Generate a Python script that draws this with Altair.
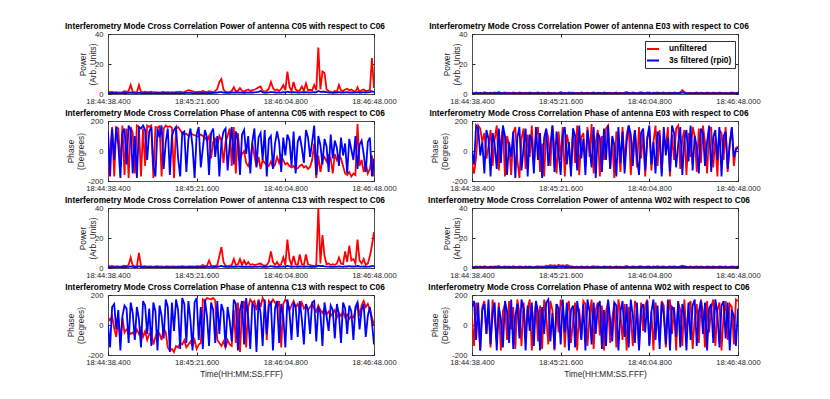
import altair as alt
import pandas as pd

# ---------------- data ----------------
TICK_LABELS = ["18:44:38.400", "18:45:21.600", "18:46:04.800", "18:46:48.000"]
TICK_SECONDS = [0, 43.2, 86.4, 129.6]
SPAN = 129.6
POWER_TICKS = [0, 20, 40]
PHASE_TICKS = [-200, 0, 200]
SERIES_NAMES = ["unfiltered", "3s filtered (rpi0)"]
COLORS = ["#ff0000", "#0000ff"]
REF = "C06"

c05_power_unf = [1.5,1.2,1.4,1.0,1.3,1.1,0.9,1.2,1.8,1.5,
                 2.0,6.0,1.5,1.2,1.0,6.0,1.4,1.1,1.6,1.3,
                 1.2,1.5,1.0,1.3,1.1,0.9,1.2,1.4,1.0,1.2,
                 1.1,1.3,1.0,1.4,1.2,1.5,1.1,1.3,2.0,2.5,
                 2.2,1.8,1.4,1.2,1.6,1.3,2.0,1.5,1.2,1.8,
                 1.5,1.2,2.0,3.5,8.0,10.0,3.0,1.5,1.2,1.4,
                 2.0,4.5,1.8,2.0,4.0,2.2,1.6,2.5,3.0,2.0,
                 2.6,3.0,3.5,4.5,5.0,2.0,1.4,2.2,3.5,8.0,
                 4.0,2.5,3.0,2.0,3.5,6.0,2.5,15.0,5.0,2.0,
                 8.0,3.0,2.0,2.5,5.0,2.2,7.0,2.5,2.8,2.4,
                 6.0,2.5,31.0,3.0,15.0,14.0,3.0,2.0,1.5,1.0,
                 2.0,1.5,6.0,2.5,2.0,3.0,3.5,2.5,3.0,2.0,
                 1.5,4.5,1.2,2.5,3.0,2.0,2.2,2.5,24.0,4.0]
c05_power_filt = [0.6,0.5,0.7,0.5,0.6,0.4,0.5,0.6,0.7,0.6,
                  0.8,1.0,0.7,0.6,0.5,0.9,0.6,0.5,0.6,0.5,
                  0.5,0.6,0.4,0.5,0.6,0.5,0.4,0.5,0.6,0.5,
                  0.5,0.4,0.6,0.5,0.5,0.6,0.5,0.6,0.7,0.8,
                  0.7,0.6,0.5,0.6,0.5,0.6,0.7,0.6,0.5,0.7,
                  0.6,0.7,0.8,1.0,1.2,1.3,1.0,0.8,0.7,0.8,
                  0.9,1.1,0.9,1.0,1.1,0.9,0.8,1.0,1.0,0.9,
                  1.0,1.1,1.2,1.4,2.0,1.0,0.8,0.9,1.1,1.3,
                  1.2,1.0,1.1,0.9,1.0,1.2,1.0,1.5,1.3,1.0,
                  1.3,1.1,1.0,1.0,1.2,1.0,1.3,1.1,1.0,1.1,
                  1.2,1.1,2.0,1.4,1.6,1.5,1.2,1.0,0.9,0.8,
                  1.0,0.9,1.2,1.0,1.0,1.1,1.2,1.0,1.1,1.0,
                  0.9,1.2,0.9,1.0,1.2,1.0,1.1,1.3,1.8,1.2]

c05_phase_unf = [-180,0,160,-170,160,150,-100,170,-160,150,
                 -180,160,120,-150,170,160,-170,150,-100,170,
                 160,170,-180,160,155,165,-170,150,170,160,
                 165,155,-180,150,160,140,120,110,115,100,
                 120,110,105,100,95,110,100,90,70,100,
                 -50,60,80,30,100,70,-80,60,100,150,
                 -100,160,-150,120,-50,-20,0,-80,-100,-60,
                 50,-30,-100,-40,-120,-60,-80,-90,-100,-70,
                 -110,-90,-40,-80,-30,-60,-90,-80,-100,-110,
                 -100,-120,-115,-100,-90,-110,-100,-120,-105,-60,
                 50,-180,-30,-140,-60,-40,-70,-30,-50,-150,
                 -20,-60,-30,-50,-100,-150,-160,-140,-170,-150,
                 -160,180,-100,-60,-140,-80,-150,-120,-30,-170]
c05_phase_filt = [130,-170,150,-60,160,40,-180,120,150,-90,
                  170,140,-150,100,-180,160,150,170,140,-60,
                  130,160,-100,-170,150,90,170,-120,60,150,
                  -160,100,140,160,-50,-170,120,130,-140,80,
                  150,30,-180,110,160,-110,20,140,90,-160,
                  120,150,-40,100,-170,60,130,150,-130,40,
                  160,-90,130,70,-160,110,140,-20,100,-150,
                  60,150,-110,90,120,-60,140,-170,80,100,
                  -120,50,130,60,-140,90,-30,110,70,-100,
                  130,-150,60,100,20,-80,140,90,-40,60,
                  170,-160,100,40,-90,80,30,-140,110,-50,
                  70,20,-100,90,-30,50,-150,80,10,-60,
                  100,-120,40,70,-20,-140,60,90,-170,-50]

c13_power_unf = [1.2,1.0,1.3,0.9,1.1,1.0,0.8,1.2,1.5,1.3,
                 2.0,7.0,1.5,1.2,1.0,10.0,1.3,1.0,1.2,0.9,
                 1.1,1.0,0.8,1.0,1.2,0.9,1.0,0.8,1.1,1.0,
                 0.9,1.0,1.1,0.8,1.0,0.9,1.2,1.0,0.9,1.0,
                 1.1,1.0,0.9,1.2,1.0,1.3,2.0,1.2,1.5,5.0,
                 1.5,1.2,1.4,2.0,8.0,14.0,4.0,1.5,1.2,1.4,
                 2.0,6.0,2.0,2.5,6.0,2.0,5.0,2.2,4.0,2.0,
                 2.5,2.0,2.2,2.8,3.0,2.0,1.5,2.0,4.0,11.0,
                 4.0,2.0,4.0,1.5,2.5,7.0,2.0,19.0,6.0,2.0,
                 8.0,2.5,2.0,9.0,2.5,2.0,9.0,2.5,2.0,1.5,
                 1.2,2.0,40.0,3.0,22.0,8.0,2.5,3.0,2.0,2.5,
                 2.0,3.0,7.0,3.0,2.5,11.0,4.0,15.0,5.0,6.0,
                 3.0,19.0,5.0,3.0,6.0,2.0,3.0,8.0,15.0,24.0]
c13_power_filt = [0.6,0.5,0.6,0.4,0.5,0.6,0.5,0.6,0.7,0.6,
                  0.8,1.1,0.7,0.6,0.5,1.2,0.6,0.5,0.6,0.5,
                  0.5,0.6,0.4,0.5,0.6,0.5,0.4,0.5,0.6,0.5,
                  0.5,0.4,0.6,0.5,0.5,0.6,0.5,0.6,0.5,0.6,
                  0.7,0.6,0.5,0.6,0.5,0.6,0.7,0.6,0.7,0.9,
                  0.7,0.6,0.7,0.8,1.1,1.4,1.0,0.8,0.7,0.8,
                  0.8,1.0,0.8,0.9,1.0,0.8,0.9,0.8,0.9,0.8,
                  0.8,0.9,0.8,0.9,1.0,0.8,0.7,0.8,0.9,1.2,
                  1.0,0.8,0.9,0.8,0.9,1.0,0.9,1.4,1.1,0.8,
                  1.0,0.9,0.8,1.0,0.9,0.8,1.0,0.9,0.8,0.8,
                  0.8,0.9,1.6,1.2,1.4,1.1,0.9,0.9,0.8,0.9,
                  0.8,0.9,1.0,0.9,0.8,1.1,1.0,1.2,1.0,1.0,
                  0.9,1.3,1.0,0.9,1.0,0.8,0.9,1.0,1.2,1.4]

c13_phase_unf = [50,30,60,-20,-80,40,-100,50,-50,-30,
                 -40,-60,-50,-70,-30,-60,-20,-80,-40,-100,
                 -60,-50,-130,-80,-40,-60,-100,-20,-50,-150,
                 -170,-160,-180,-140,-150,-120,-130,-100,-150,-130,
                 -110,-140,-100,-160,-130,-120,170,160,180,175,
                 170,180,165,-100,-120,-140,-110,-150,-100,-130,
                 -140,100,-120,150,-180,100,160,-150,120,170,
                 150,160,100,170,120,180,150,-100,160,140,
                 170,150,120,160,-150,140,170,150,100,130,
                 160,120,140,100,150,110,130,100,120,140,
                 110,90,130,100,80,110,70,90,60,80,
                 100,50,80,60,90,50,70,40,60,50,
                 100,150,60,130,160,120,140,100,50,0]
c13_phase_filt = [0,-150,120,140,-30,100,-170,60,130,110,
                  -120,150,80,-100,120,40,-150,160,130,-60,
                  110,-140,150,90,-170,130,60,-90,170,120,
                  -180,150,-40,170,100,-160,180,140,-120,160,
                  30,-170,150,180,-100,120,-160,170,60,-140,
                  150,100,-120,160,-60,140,90,-150,120,30,
                  -110,170,140,-170,100,160,-130,180,50,-160,
                  150,120,-180,160,80,-140,170,-60,130,150,
                  -170,110,160,-120,140,60,-150,170,90,-100,
                  150,120,-80,160,40,-130,140,100,-60,150,
                  160,-110,120,80,-140,150,60,-40,130,100,
                  -90,140,70,-120,150,110,-60,130,90,-100,
                  120,150,-30,100,140,-80,60,120,20,-130]

e03_power_unf = [0.8,0.5,1.0,0.6,0.9,0.4,1.2,0.7,0.5,0.9,
                 0.6,1.0,0.8,1.3,0.5,0.7,1.0,0.6,0.9,0.5,
                 1.1,0.7,0.6,1.0,0.8,0.5,0.9,0.6,1.0,0.7,
                 0.5,0.8,1.1,0.6,0.9,0.7,0.5,1.0,0.8,0.6,
                 0.9,0.5,0.7,1.2,0.6,0.8,0.5,1.0,0.7,0.9,
                 0.6,0.8,0.5,1.0,0.7,0.6,0.9,0.5,0.8,1.1,
                 0.6,0.9,0.7,0.5,1.0,0.8,0.6,0.9,0.5,0.7,
                 1.0,0.6,0.8,0.5,0.9,1.3,0.7,0.6,1.0,0.8,
                 0.5,0.9,1.2,0.7,0.6,1.0,0.8,0.5,0.9,0.7,
                 1.1,0.6,0.8,1.0,0.5,0.7,0.9,0.6,1.0,0.8,
                 0.7,1.0,2.6,1.2,0.8,0.6,0.9,0.5,0.8,1.0,
                 0.6,0.9,0.7,0.5,1.0,0.8,0.6,0.9,0.7,0.5,
                 1.0,0.8,0.6,0.9,0.5,0.7,1.0,0.8,0.6,0.9]
e03_power_filt = [0.5,0.4,0.6,0.4,0.5,0.3,0.6,0.5,0.4,0.5,
                  0.4,0.6,0.5,0.7,0.4,0.5,0.6,0.4,0.5,0.4,
                  0.6,0.5,0.4,0.6,0.5,0.4,0.5,0.4,0.6,0.5,
                  0.4,0.5,0.6,0.4,0.5,0.5,0.4,0.6,0.5,0.4,
                  0.5,0.4,0.5,0.7,0.4,0.5,0.4,0.6,0.5,0.5,
                  0.4,0.5,0.4,0.6,0.5,0.4,0.5,0.4,0.5,0.6,
                  0.4,0.5,0.5,0.4,0.6,0.5,0.4,0.5,0.4,0.5,
                  0.6,0.4,0.5,0.4,0.5,0.7,0.5,0.4,0.6,0.5,
                  0.4,0.5,0.7,0.5,0.4,0.6,0.5,0.4,0.5,0.5,
                  0.6,0.4,0.5,0.6,0.4,0.5,0.5,0.4,0.6,0.5,
                  0.5,0.6,1.0,0.7,0.5,0.4,0.5,0.4,0.5,0.6,
                  0.4,0.5,0.5,0.4,0.6,0.5,0.4,0.5,0.5,0.4,
                  0.6,0.5,0.4,0.5,0.4,0.5,0.6,0.5,0.4,0.5]

e03_phase_unf = [-80,-150,-40,170,150,60,120,-50,30,140,
                 -100,80,170,-130,60,150,-170,100,40,-160,
                 120,160,-60,-180,80,150,-120,110,-40,170,
                 -90,100,160,-140,50,-170,140,90,-100,170,
                 20,-150,130,-60,160,-170,110,40,-130,150,
                 -80,170,-160,90,120,-100,160,-40,180,-150,
                 60,140,-170,100,-60,150,170,-120,80,-180,
                 130,50,-140,160,-90,110,170,-160,40,140,
                 -110,160,-50,120,-170,90,150,-130,60,170,
                 -100,140,-150,100,30,160,-170,110,-60,150,
                 170,-120,80,140,-160,120,-40,160,100,-140,
                 150,-80,170,60,-150,130,160,-110,90,-170,
                 140,120,-60,160,-140,50,150,-100,20,30]
e03_phase_filt = [0,-90,170,150,-30,60,-150,140,80,-170,
                  120,40,-120,150,-80,170,100,-160,60,-40,
                  130,-180,90,160,-130,20,150,-170,110,70,
                  -150,160,-60,120,-180,90,150,-100,40,170,
                  -140,130,-20,-160,110,160,-90,60,-170,150,
                  100,-130,170,-50,80,-160,140,30,-110,160,
                  -180,120,90,-140,150,-60,170,-120,100,40,
                  -170,160,-80,130,-150,60,170,110,-100,140,
                  -40,-160,120,150,-130,80,170,-90,60,-150,
                  130,100,-170,160,-30,90,-140,170,120,-110,
                  50,160,-160,80,140,-70,170,-130,100,30,
                  -150,150,120,-100,60,170,-140,90,140,-60,
                  160,-170,100,130,-120,50,160,-40,10,20]

w02_power_unf = [0.9,0.6,1.1,0.7,1.0,0.6,1.2,0.8,0.6,1.0,
                 0.7,1.1,0.9,1.3,0.6,0.8,1.1,0.7,1.0,0.6,
                 1.2,0.8,0.7,1.1,0.9,0.6,1.0,0.7,1.1,0.8,
                 0.6,0.9,1.2,0.7,1.0,0.8,1.6,1.2,2.0,1.4,
                 1.8,1.2,2.2,1.5,1.9,1.3,2.0,1.4,1.0,0.9,
                 0.7,0.9,0.6,1.1,0.8,0.7,1.0,0.6,0.9,1.2,
                 0.7,1.0,0.8,0.6,1.1,0.9,0.7,1.0,0.6,0.8,
                 1.1,0.7,0.9,0.6,1.0,1.3,0.8,0.7,1.1,0.9,
                 0.6,1.0,1.2,0.8,0.7,1.1,0.9,0.6,1.0,0.8,
                 1.2,0.7,0.9,1.1,0.6,0.8,1.0,0.7,1.1,0.9,
                 0.8,1.1,1.6,1.2,0.9,0.7,1.0,0.6,0.9,1.1,
                 0.7,1.0,0.8,0.6,1.1,0.9,0.7,1.0,0.8,0.6,
                 1.1,0.9,0.7,1.0,0.6,0.8,1.1,0.9,0.7,1.0]
w02_power_filt = [0.5,0.4,0.5,0.4,0.5,0.3,0.5,0.4,0.4,0.5,
                  0.4,0.5,0.5,0.6,0.4,0.5,0.5,0.4,0.5,0.4,
                  0.5,0.5,0.4,0.5,0.5,0.4,0.5,0.4,0.5,0.5,
                  0.4,0.5,0.5,0.4,0.5,0.5,0.6,0.6,0.7,0.6,
                  0.7,0.6,0.8,0.7,0.7,0.6,0.7,0.6,0.5,0.5,
                  0.4,0.5,0.4,0.5,0.5,0.4,0.5,0.4,0.5,0.5,
                  0.4,0.5,0.5,0.4,0.5,0.5,0.4,0.5,0.4,0.5,
                  0.5,0.4,0.5,0.4,0.5,0.6,0.5,0.4,0.5,0.5,
                  0.4,0.5,0.6,0.5,0.4,0.5,0.5,0.4,0.5,0.5,
                  0.5,0.4,0.5,0.5,0.4,0.5,0.5,0.4,0.5,0.5,
                  0.5,0.5,0.7,0.6,0.5,0.4,0.5,0.4,0.5,0.5,
                  0.4,0.5,0.5,0.4,0.5,0.5,0.4,0.5,0.5,0.4,
                  0.5,0.5,0.4,0.5,0.4,0.5,0.5,0.5,0.4,0.5]

w02_phase_unf = [60,-140,150,30,-170,120,160,-60,100,-150,
                 170,40,-120,150,-170,90,140,-100,160,-30,
                 120,-160,170,80,-140,150,-60,110,170,-170,
                 40,150,-110,130,-160,170,60,-130,160,100,
                 -170,140,-50,170,120,-150,80,160,-120,30,
                 150,-170,110,-90,160,140,-140,60,170,-160,
                 100,150,-70,130,-170,90,160,-120,40,150,
                 -150,170,80,-100,140,-170,120,60,-140,160,
                 110,-160,150,-40,130,170,-130,90,-170,150,
                 60,-110,160,130,-150,80,170,-60,120,-170,
                 150,100,-140,170,-80,130,160,-160,50,140,
                 -120,170,90,-150,160,-50,120,170,-140,100,
                 150,-170,60,160,-100,140,120,-130,170,160]
w02_phase_filt = [120,160,-100,150,-170,100,140,-60,170,-130,
                  80,150,-170,120,40,-150,160,90,-120,170,
                  -160,60,140,-90,170,110,-170,130,-40,150,
                  -140,160,90,-170,120,-60,150,170,-110,80,
                  -160,140,110,-130,170,-50,150,-170,100,130,
                  -150,160,60,-100,140,-170,170,90,-130,150,
                  -60,120,160,-160,100,-140,170,40,-110,150,
                  130,-170,90,160,-80,140,-150,170,60,-120,
                  150,-170,110,140,-50,160,-140,90,170,-100,
                  130,-160,150,70,-130,170,-170,120,100,-80,
                  160,-150,140,60,-170,150,-100,130,170,-140,
                  90,160,-60,150,-170,110,140,-120,170,80,
                  -150,130,160,-90,150,-170,100,60,-140,110]

PANELS = [
    ("Power", "C05", c05_power_unf, c05_power_filt, "E03", e03_power_unf, e03_power_filt),
    ("Phase", "C05", c05_phase_unf, c05_phase_filt, "E03", e03_phase_unf, e03_phase_filt),
    ("Power", "C13", c13_power_unf, c13_power_filt, "W02", w02_power_unf, w02_power_filt),
    ("Phase", "C13", c13_phase_unf, c13_phase_filt, "W02", w02_phase_unf, w02_phase_filt),
]

# ---------------- helpers ----------------
FONT = "Liberation Sans"
AX = "#262626"
PW, PH = 266, 60
TK = 3  # inward tick length
X_LABEL_EXPR = "[" + ",".join("'" + s + "'" for s in TICK_LABELS) + "][round(datum.value / 43.2)]"


def series_frame(vals, name):
    n = len(vals)
    return pd.DataFrame({"t": [i * SPAN / (n - 1) for i in range(n)], "v": vals, "s": name})


def make_panel(kind, ant, unf, filt, xtitle=False, legend=False):
    if kind == "Power":
        ydom, yvals, ytitle, tx = [0, 40], POWER_TICKS, ["Power", "(Arb. Units)"], -25 - TK
    else:
        ydom, yvals, ytitle, tx = [-200, 200], PHASE_TICKS, ["Phase", "(Degrees)"], -37 - TK
    xscale = alt.Scale(domain=[0, SPAN], nice=False, zero=False)
    yscale = alt.Scale(domain=ydom, nice=False, zero=False)
    xkw = dict(values=TICK_SECONDS, labelExpr=X_LABEL_EXPR, grid=False, ticks=True,
               tickSize=TK, tickColor=AX, offset=-TK, domain=False, labelPadding=3,
               labelFlush=False, labelOverlap=False, labelFontSize=7.6)
    if xtitle:
        xkw.update(title="Time(HH:MM:SS.FFF)", titlePadding=4, titleFontSize=8.3,
                   titleFontWeight="normal")
    else:
        xkw.update(title=None)
    x = alt.X("t:Q", scale=xscale, axis=alt.Axis(**xkw))
    y = alt.Y("v:Q", scale=yscale,
              axis=alt.Axis(values=yvals, labelExpr="'' + datum.value", grid=False,
                            ticks=True, tickSize=TK, tickColor=AX, offset=-TK,
                            domain=False, labelPadding=5, labelFontSize=7.6,
                            title=ytitle, titleX=tx, titleY=PH / 2, titleAngle=270,
                            titleAlign="center", titleBaseline="middle",
                            titleLineHeight=10, titleFontSize=8.3,
                            titleFontWeight="normal"))
    if legend:
        color = alt.Color("s:N", scale=alt.Scale(domain=SERIES_NAMES, range=COLORS),
                          legend=alt.Legend(title=None, orient="none", legendX=537,
                                            legendY=7, symbolType="M-1.5,0H1.5",
                                            symbolStrokeWidth=2, symbolSize=64,
                                            labelFontSize=8.3, labelFont=FONT,
                                            labelFontWeight="bold", labelColor="#000",
                                            strokeColor="#333", fillColor="white",
                                            padding=3, rowPadding=2.5, labelOffset=11))
        c_red, c_blue = color, color
    else:
        c_red, c_blue = alt.value(COLORS[0]), alt.value(COLORS[1])
    red = alt.Chart(series_frame(unf, SERIES_NAMES[0])).mark_line(
        strokeWidth=1.8, clip=True).encode(x=x, y=y, color=c_red)
    blue = alt.Chart(series_frame(filt, SERIES_NAMES[1])).mark_line(
        strokeWidth=1.8, clip=True).encode(x=x, y=y, color=c_blue)
    # invisible layer carrying the inward ticks of the top and right box edges
    tick_kw = dict(grid=False, ticks=True, tickSize=TK, tickColor=AX, offset=-TK,
                   domain=False, labels=False, title=None)
    box = alt.Chart(series_frame(filt, SERIES_NAMES[1])).mark_line(
        strokeOpacity=0).encode(
        x=alt.X("t:Q", scale=xscale, axis=alt.Axis(orient="top", values=TICK_SECONDS, **tick_kw)),
        y=alt.Y("v:Q", scale=yscale, axis=alt.Axis(orient="right", values=yvals, **tick_kw)))
    title = f"Interferometry Mode Cross Correlation {kind} of antenna {ant} with respect to {REF}"
    return alt.layer(alt.layer(red, blue), box).resolve_axis(
        x="independent", y="independent").properties(
        width=PW, height=PH,
        title=alt.TitleParams(text=title, fontSize=8.3, fontWeight="bold", font=FONT,
                              color="#000", offset=0, dy=0, dx=-16))


panels = []
for r, (kind, a1, u1, f1, a2, u2, f2) in enumerate(PANELS):
    last = r == len(PANELS) - 1
    panels.append(make_panel(kind, a1, u1, f1, xtitle=last))
    panels.append(make_panel(kind, a2, u2, f2, xtitle=last, legend=(r == 0)))

chart = alt.concat(*panels, columns=2, spacing={"row": 27, "column": 98},
                   bounds="flush").properties(
    padding={"left": 56, "top": 13, "right": 5, "bottom": 5}
).configure(font=FONT, background="white").configure_view(
    stroke="#4d4d4d", strokeWidth=1
).configure_axis(labelColor=AX, titleColor=AX, labelFont=FONT, titleFont=FONT)

chart.save("out.html", embed_options={"renderer": "svg", "actions": False})
